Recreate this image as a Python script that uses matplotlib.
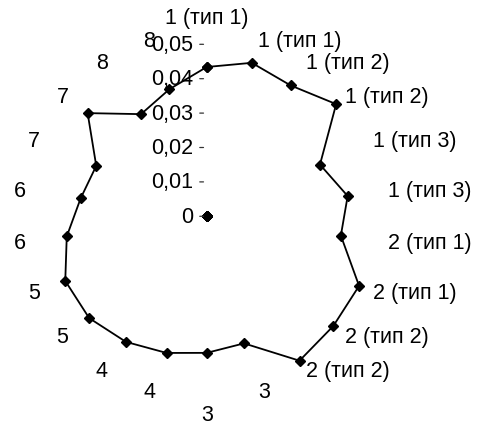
import numpy as np
import matplotlib
matplotlib.use('Agg')
from matplotlib import pyplot as plt

categories = ['1 (тип 1)', '1 (тип 1)', '1 (тип 2)', '1 (тип 2)', '1 (тип 3)', '1 (тип 3)',
              '2 (тип 1)', '2 (тип 1)', '2 (тип 2)', '2 (тип 2)',
              '3', '3', '4', '4', '5', '5', '6', '6', '7', '7', '8', '8']
values = [0.0434, 0.0465, 0.0452, 0.0498, 0.0362, 0.0414, 0.0394, 0.0487, 0.0487, 0.0499,
          0.0385, 0.0397, 0.0414, 0.0434, 0.0452, 0.0452, 0.0411, 0.0370, 0.0353, 0.0458,
          0.0353, 0.0385]
zeros = [0.0] * len(categories)
r_ticks = [0, 0.01, 0.02, 0.03, 0.04, 0.05]
r_labels = ['0', '0,01', '0,02', '0,03', '0,04', '0,05']

plt.rcParams['font.family'] = ['Liberation Sans', 'DejaVu Sans']

n = len(categories)
theta = 2 * np.pi * np.arange(n) / n

fig = plt.figure(figsize=(4.9, 4.31), dpi=100)
ax = fig.add_axes([34.7 / 490, 41.7 / 431, 344 / 490, 344 / 431], projection='polar')
ax.set_theta_zero_location('N')
ax.set_theta_direction(-1)
ax.set_ylim(0, 0.05)
ax.grid(False)
ax.spines['polar'].set_visible(False)
ax.set_xticks([])
ax.set_yticks([])
ax.patch.set_visible(False)

th = np.append(theta, theta[0])
ax.plot(th, np.append(values, values[0]), color='black', lw=1.3,
        marker='D', markersize=5, clip_on=False)
ax.plot(theta, zeros, color='black', lw=0, marker='D', markersize=5)

# value axis labels with small ticks
for r, lab in zip(r_ticks, r_labels):
    ax.annotate(lab, xy=(0, r), xytext=(-10, 0), textcoords='offset points',
                ha='right', va='center', fontsize=15.5, annotation_clip=False)
    ax.annotate('', xy=(0, r), xytext=(-7, 0), textcoords='offset points',
                arrowprops=dict(arrowstyle='-', lw=0.9, color='#333333', linestyle=(0, (3, 1.5))),
                annotation_clip=False)

# category labels
for t, lab in zip(theta, categories):
    deg = np.degrees(t)
    if np.isclose(deg, 0):
        ax.text(t, 0.0548, lab, ha='center', va='bottom', fontsize=15.5)
    elif np.isclose(deg, 180):
        ax.text(t, 0.0545, lab, ha='center', va='top', fontsize=15.5)
    elif deg < 180:
        ax.text(t, 0.0532, lab, ha='left', va='center', fontsize=15.5)
    else:
        ax.text(t, 0.0532, lab, ha='right', va='center', fontsize=15.5)

fig.savefig('out.png', dpi=100)
